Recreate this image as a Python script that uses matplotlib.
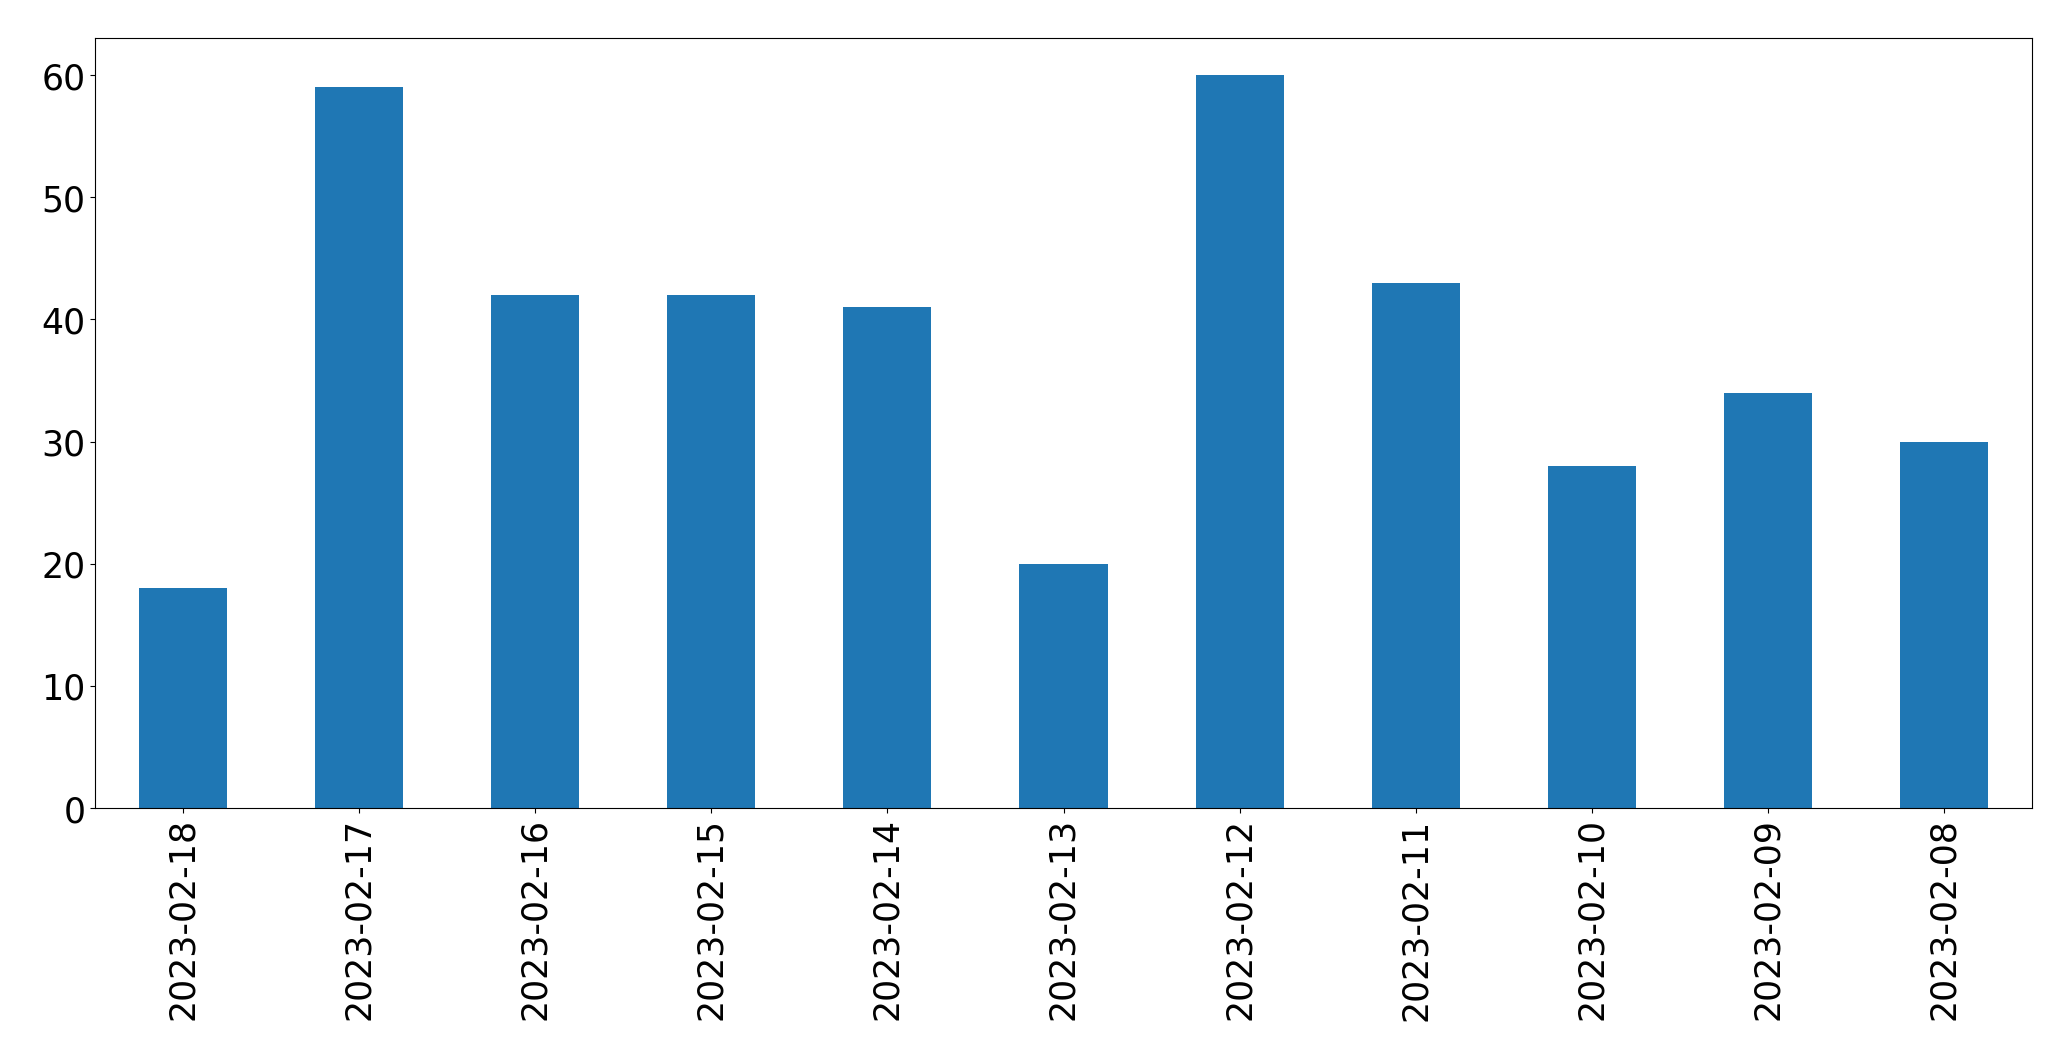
import matplotlib
matplotlib.use('Agg')
import matplotlib.pyplot as plt
import pandas as pd

dates = ['2023-02-18', '2023-02-17', '2023-02-16', '2023-02-15', '2023-02-14', '2023-02-13',
         '2023-02-12', '2023-02-11', '2023-02-10', '2023-02-09', '2023-02-08']
counts = [18, 59, 42, 42, 41, 20, 60, 43, 28, 34, 30]

s = pd.Series(counts, index=dates)

fig = plt.figure(figsize=(20.71, 10.605), dpi=100)
ax = fig.add_axes([95/2071, 1 - 809/1061, (2032 - 95)/2071, (809 - 39)/1061])
s.plot(kind='bar', ax=ax, color='#1f77b4', fontsize=25)

plt.savefig('out.png', dpi=100)
